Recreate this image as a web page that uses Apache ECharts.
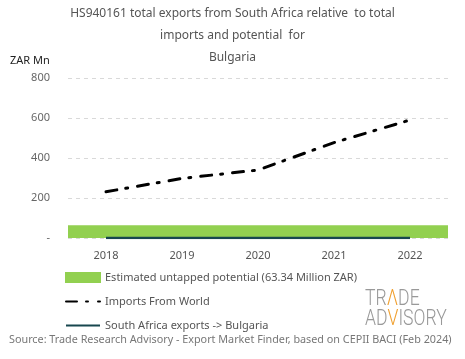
<!DOCTYPE html>
<html><head><meta charset="utf-8">
<script src="https://cdn.jsdelivr.net/npm/echarts@6/dist/echarts.min.js"></script>
<style>html,body{margin:0;padding:0;background:#fff}#c{width:465px;height:359px}</style>
</head><body><div id="c"></div>
<script>
var years = ['2018','2019','2020','2021','2022'];
var potential = [63.34, 63.34, 63.34, 63.34, 63.34];
var importsWorld = [231, 298, 340, 477, 590];
var saExports = [0.5, 0.5, 0.5, 0.5, 0.5];

var FONT = 'Noto Sans';
var LOGO = 'Roboto';
var chart = echarts.init(document.getElementById('c'));
chart.setOption({
  animation: false,
  textStyle: {fontFamily: FONT},
  title: {
    text: 'HS940161 total exports from South Africa relative  to total\nimports and potential  for\nBulgaria',
    left: 'center', top: -2,
    textStyle: {fontFamily: FONT, fontSize: 12, fontWeight: 'normal', color: '#555', lineHeight: 22}
  },
  grid: {left: 68, right: 17, top: 78, bottom: 121},
  xAxis: {
    type: 'category', data: years, boundaryGap: true,
    axisLine: {show: false}, axisTick: {show: false},
    axisLabel: {color: '#555', fontSize: 11, margin: 12}
  },
  yAxis: {
    type: 'value', min: 0, max: 800, interval: 200,
    name: 'ZAR Mn', nameLocation: 'end', nameGap: 12,
    nameTextStyle: {color: '#222', fontSize: 11, align: 'left', padding: [0, 0, 0, -58]},
    axisLabel: {color: '#666', fontSize: 11, margin: 18,
      formatter: function (v) { return v === 0 ? '-' : String(v); }},
    splitLine: {lineStyle: {color: '#d9d9d9', type: [4, 4]}}
  },
  legend: {
    orient: 'vertical', left: 60, top: 267, itemGap: 13,
    itemWidth: 34, itemHeight: 9,
    textStyle: {color: '#555', fontSize: 11, fontFamily: FONT},
    data: [
      {name: 'Estimated untapped potential (63.34 Million ZAR)', icon: 'rect'},
      {name: 'Imports From World', itemStyle: {opacity: 0}},
      {name: 'South Africa exports -> Bulgaria', itemStyle: {opacity: 0}}
    ]
  },
  series: [
    {name: 'Estimated untapped potential (63.34 Million ZAR)', type: 'bar', data: potential,
      barWidth: '100%', barGap: '-100%',
      itemStyle: {color: '#92d050', borderColor: '#92d050', borderWidth: 1.5}, z: 1},
    {name: 'Imports From World', type: 'line', data: importsWorld, symbol: 'none',
      lineStyle: {color: '#000', width: 3, type: [11, 9, 2, 10], cap: 'round'}, itemStyle: {color: '#000'}, z: 3},
    {name: 'South Africa exports -> Bulgaria', type: 'line', data: saExports, symbol: 'none',
      lineStyle: {color: '#17474f', width: 2.5}, itemStyle: {color: '#17474f'}, z: 4}
  ],
  graphic: [
    {type: 'text', x: 365, y: 289, scaleX: 0.8, style: {
      text: '{g|TR}{o|Λ}{g|DE}\n{g|AD}{o|V}{g|ISORY}',
      rich: {
        g: {fontFamily: LOGO, fontWeight: 300, fontSize: 22, fill: '#999', lineHeight: 20},
        o: {fontFamily: LOGO, fontWeight: 300, fontSize: 22, fill: '#f0a030', lineHeight: 20}
      }
    }},
    {type: 'text', left: 9, top: 334, style: {
      text: 'Source: Trade Research Advisory - Export Market Finder, based on CEPII BACI (Feb 2024)',
      fontFamily: FONT, fontSize: 10.8, fill: '#777'
    }}
  ]
});
</script></body></html>
